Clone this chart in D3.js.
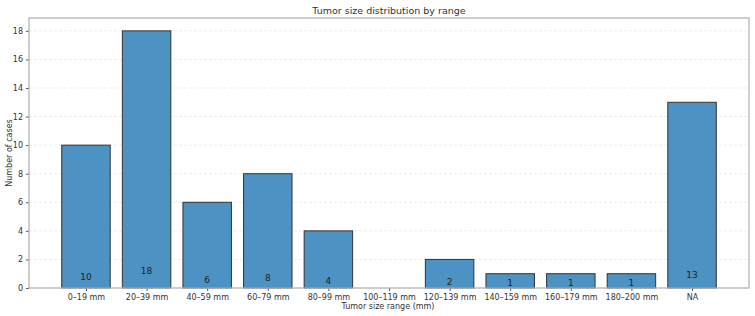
<!DOCTYPE html>
<html>
<head>
<meta charset="utf-8">
<script src="https://cdn.jsdelivr.net/npm/d3@7"></script>
<style>
  body { margin: 0; background: #fff; }
  text { font-family: "DejaVu Sans", sans-serif; fill: #333; }
</style>
</head>
<body>
<script>
// tumor size ranges and case counts
var categories = ["0–19 mm", "20–39 mm", "40–59 mm", "60–79 mm", "80–99 mm", "100–119 mm",
                  "120–139 mm", "140–159 mm", "160–179 mm", "180–200 mm", "NA"];
var counts = [10, 18, 6, 8, 4, 0, 2, 1, 1, 1, 13];
var yTicks = [0, 2, 4, 6, 8, 10, 12, 14, 16, 18];

var margin = { top: 18, right: 6, bottom: 28, left: 29 },
    width = 755 - margin.left - margin.right,
    height = 316 - margin.top - margin.bottom;

var svg = d3.select("body").append("svg")
    .attr("width", 755)
    .attr("height", 316);

var g = svg.append("g")
    .attr("transform", "translate(" + margin.left + "," + margin.top + ")");

// index based x, bars 0.8 wide with 5% margins
var n = categories.length;
var scaleX = d3.scaleLinear()
    .domain([-0.94, n - 1 + 0.94])
    .range([0, width]);
var scaleY = d3.scaleLinear()
    .domain([0, 18.9])
    .range([height, 0]);

// grid
g.selectAll(".grid")
    .data(yTicks)
    .enter().append("line")
    .attr("x1", 0)
    .attr("x2", width)
    .attr("y1", d => scaleY(d))
    .attr("y2", d => scaleY(d))
    .attr("stroke", "#e6e6e6")
    .attr("stroke-width", 0.8)
    .attr("stroke-dasharray", "3,2");

// bars
g.selectAll(".bar")
    .data(counts)
    .enter().append("rect")
    .attr("class", "bar")
    .attr("x", (d, i) => scaleX(i - 0.4))
    .attr("width", scaleX(0.4) - scaleX(-0.4))
    .attr("y", d => scaleY(d))
    .attr("height", d => height - scaleY(d))
    .attr("fill", "#4c92c3")
    .attr("stroke", d => d > 0 ? "#333" : "none")
    .attr("stroke-width", 1);

// value labels near the bottom of each bar
counts.forEach(function(d, i) {
    if (d <= 0) return;
    g.append("text")
        .attr("x", scaleX(i))
        .attr("y", scaleY(0.3 + 0.05 * d))
        .attr("dy", "0.35em")
        .attr("text-anchor", "middle")
        .style("font-size", "9px")
        .style("fill", "#222")
        .text(d);
});

// axes
var xAxis = g.append("g")
    .attr("transform", "translate(0," + height + ")")
    .call(d3.axisBottom(scaleX).tickValues(d3.range(n)).tickFormat(i => categories[i]).tickSize(3).tickPadding(3));
var yAxis = g.append("g")
    .call(d3.axisLeft(scaleY).tickValues(yTicks).tickSize(3).tickPadding(3));

[xAxis, yAxis].forEach(function(a) {
    a.select(".domain").remove();
    a.selectAll("line").attr("stroke", "#555");
    a.selectAll("text").style("font-size", "8px").style("fill", "#333").style("font-family", "DejaVu Sans, sans-serif");
});

// frame
g.append("rect")
    .attr("width", width)
    .attr("height", height)
    .attr("fill", "none")
    .attr("stroke", "#b5b5b5")
    .attr("stroke-width", 1.3);

// titles
svg.append("text")
    .attr("x", margin.left + width / 2)
    .attr("y", 14)
    .attr("text-anchor", "middle")
    .style("font-size", "9.5px")
    .text("Tumor size distribution by range");

svg.append("text")
    .attr("x", margin.left + width / 2 - 1)
    .attr("y", 309)
    .attr("text-anchor", "middle")
    .style("font-size", "8px")
    .text("Tumor size range (mm)");

svg.append("text")
    .attr("transform", "translate(12," + (margin.top + height / 2) + ") rotate(-90)")
    .attr("text-anchor", "middle")
    .style("font-size", "8px")
    .text("Number of cases");
</script>
</body>
</html>
